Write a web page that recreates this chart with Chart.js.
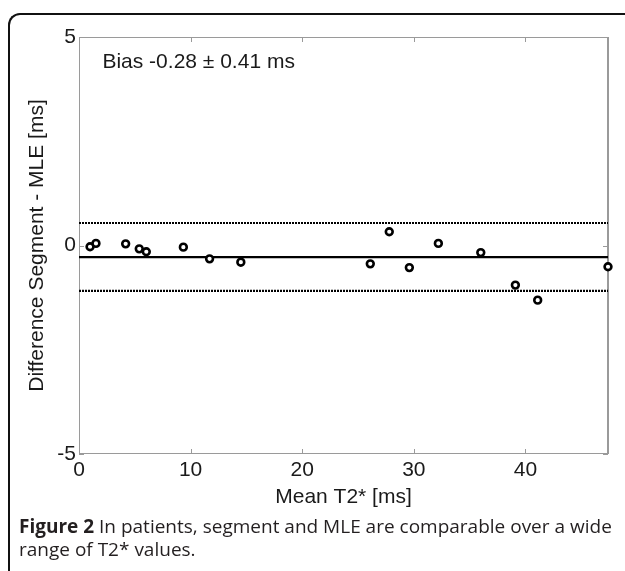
<!DOCTYPE html>
<html><head><meta charset="utf-8">
<script src="https://cdn.jsdelivr.net/npm/chart.js@4"></script>
<style>
html,body{margin:0;padding:0;background:#fff;}
#wrap{position:relative;width:625px;height:571px;overflow:hidden;background:#fff;}
#frame{position:absolute;left:8px;top:13px;width:700px;height:700px;border-left:2px solid #111;border-top:2px solid #111;border-top-left-radius:12px;box-sizing:border-box;}
#box{position:absolute;left:0;top:0;width:625px;height:515px;}
#cap{position:absolute;left:19px;top:515px;font-family:'Open Sans',sans-serif;font-size:19px;line-height:23px;color:#231f20;white-space:nowrap;letter-spacing:0px;}
</style></head><body>
<div id="wrap"><div id="frame"></div><div id="box"><canvas id="c" width="625" height="515"></canvas></div>
<div id="cap"><b>Figure 2</b> In patients, segment and MLE are comparable over a wide<br>range of T2* values.</div></div>
<script>
// ---- data ----
const meanT2 = [0.99, 1.52, 4.18, 5.40, 6.03, 9.35, 11.7, 14.5, 26.1, 27.8, 29.6, 32.2, 36.0, 39.1, 41.1, 47.4];
const diffs  = [-0.03, 0.05, 0.04, -0.08, -0.15, -0.04, -0.32, -0.40, -0.44, 0.33, -0.53, 0.05, -0.17, -0.95, -1.31, -0.51];
const biasValue = -0.28;
const upperLimit = 0.54;
const lowerLimit = -1.09;
const xTicks = [0, 10, 20, 30, 40];
const yTicks = [-5, 0, 5];
const xRange = [0, 47.4];
const yRange = [-5, 5];
const biasLabel = 'Bias -0.28 \u00B1 0.41 ms';
const xTitle = 'Mean T2* [ms]';
const yTitle = 'Difference Segment - MLE [ms]';

const FONT = "'Liberation Sans', Arial, sans-serif";
const AX = '#9a9a9a';
const TXT = '#1a1a1a';

const hLine = (v) => [{x: xRange[0], y: v}, {x: xRange[1], y: v}];

const framePlugin = {
  id: 'frameTicks',
  beforeDatasetsDraw(chart) {
    const {ctx, chartArea: a, scales: {x, y}} = chart;
    ctx.save();
    ctx.strokeStyle = AX;
    ctx.lineWidth = 1;
    ctx.strokeRect(a.left + 0.5, a.top + 0.5, a.right - a.left - 1, a.bottom - a.top - 1);
    ctx.lineWidth = 2;
    ctx.beginPath(); ctx.moveTo(a.right, a.top); ctx.lineTo(a.right, a.bottom); ctx.stroke();
    ctx.lineWidth = 1;
    const tl = 5;
    ctx.beginPath();
    xTicks.forEach(v => {
      const px = Math.round(x.getPixelForValue(v)) + 0.5;
      ctx.moveTo(px, a.bottom); ctx.lineTo(px, a.bottom - tl);
      ctx.moveTo(px, a.top); ctx.lineTo(px, a.top + tl);
    });
    yTicks.forEach(v => {
      const py = Math.round(y.getPixelForValue(v)) + 0.5;
      ctx.moveTo(a.left, py); ctx.lineTo(a.left + tl, py);
      ctx.moveTo(a.right, py); ctx.lineTo(a.right - tl, py);
    });
    ctx.stroke();
    ctx.restore();
  },
  afterDatasetsDraw(chart) {
    const {ctx, scales: {x, y}} = chart;
    ctx.save();
    ctx.font = '21px ' + FONT;
    ctx.fillStyle = TXT;
    ctx.textBaseline = 'middle';
    ctx.textAlign = 'left';
    ctx.fillText(biasLabel, x.getPixelForValue(2.1), y.getPixelForValue(4.4));
    ctx.restore();
  }
};

new Chart(document.getElementById('c'), {
  type: 'scatter',
  data: {
    datasets: [
      {
        data: meanT2.map((v, i) => ({x: v, y: diffs[i]})),
        pointRadius: 3.4, pointBorderWidth: 2.6,
        pointBorderColor: '#000', pointBackgroundColor: '#fff',
        showLine: false, clip: false, order: 0
      },
      { data: hLine(biasValue), showLine: true, borderColor: '#000', borderWidth: 2.2, pointRadius: 0, order: 1 },
      { data: hLine(upperLimit), showLine: true, borderColor: '#000', borderWidth: 2.2, borderDash: [2, 1], pointRadius: 0, order: 1 },
      { data: hLine(lowerLimit), showLine: true, borderColor: '#000', borderWidth: 2.2, borderDash: [2, 1], pointRadius: 0, order: 1 }
    ]
  },
  options: {
    responsive: false,
    animation: false,
    devicePixelRatio: 1,
    layout: {padding: {left: 0, right: 17, top: 37, bottom: 0}},
    plugins: {legend: {display: false}, tooltip: {enabled: false}},
    scales: {
      x: {
        type: 'linear', min: xRange[0], max: xRange[1],
        afterBuildTicks: s => { s.ticks = xTicks.map(v => ({value: v})); },
        afterFit: s => { s.height = 61; },
        grid: {display: false, drawTicks: false},
        border: {display: false},
        ticks: {font: {family: FONT, size: 21}, color: TXT, padding: 4, maxRotation: 0, autoSkip: false},
        title: {display: true, text: xTitle, font: {family: FONT, size: 21}, color: TXT, padding: {top: 0, bottom: 5}}
      },
      y: {
        type: 'linear', min: yRange[0], max: yRange[1],
        afterBuildTicks: s => { s.ticks = yTicks.map(v => ({value: v})); },
        afterFit: s => { s.width = 79; },
        grid: {display: false, drawTicks: false},
        border: {display: false},
        ticks: {font: {family: FONT, size: 21}, color: TXT, padding: 3, autoSkip: false},
        title: {display: true, text: yTitle, font: {family: FONT, size: 21}, color: TXT, padding: {top: 25, bottom: 0}}
      }
    }
  },
  plugins: [framePlugin]
});
</script>
</body></html>
